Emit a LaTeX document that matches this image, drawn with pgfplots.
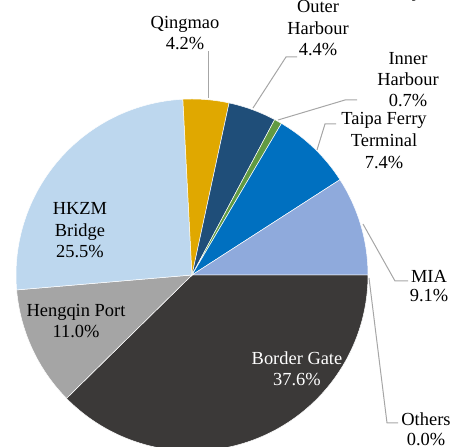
\documentclass[border=0pt]{standalone}
\usepackage{pgfplots}
\usepackage{pgfplotstable}
\pgfplotsset{compat=1.18}
\usepackage{fontspec}
\setmainfont{Liberation Serif}
\definecolor{cBG}{HTML}{3B3938}
\definecolor{cHQ}{HTML}{A5A5A5}
\definecolor{cHK}{HTML}{BDD7EE}
\definecolor{cQM}{HTML}{E0A800}
\definecolor{cOH}{HTML}{1F4E79}
\definecolor{cIH}{HTML}{619A42}
\definecolor{cTF}{HTML}{0070C0}
\definecolor{cMIA}{HTML}{8FAADC}
\definecolor{cOT}{HTML}{7F7F7F}
\definecolor{leadc}{HTML}{A6A6A6}
\pgfplotstableread{
name value color
BorderGate 37.6 cBG
Hengqin 11.0 cHQ
HKZM 25.5 cHK
Qingmao 4.2 cQM
Outer 4.4 cOH
Inner 0.7 cIH
Taipa 7.4 cTF
MIA 9.1 cMIA
Others 0.0 cOT
}\piedata
\newcommand\lblfont{\fontsize{18.5}{21}\selectfont}
\newcommand\lbl[3]{\node[anchor=base, inner sep=0pt, font=\lblfont] at (axis cs:#1,#2) {#3};}
\newcommand\wlbl[3]{\node[anchor=base, inner sep=0pt, font=\lblfont, text=white] at (axis cs:#1,#2) {#3};}
\begin{document}
\begin{tikzpicture}
\useasboundingbox (0,0) rectangle (455bp,447bp);
\clip (0,0) rectangle (455bp,447bp);
\begin{axis}[
  at={(0,0)}, anchor=south west,
  width=455bp, height=447bp, scale only axis,
  xmin=0, xmax=455, ymin=0, ymax=447,
  hide axis, clip=false,
]
\pgfplotstablegetrowsof{\piedata}
\pgfmathtruncatemacro\N{\pgfplotsretval-1}
\def\cum{0}
\pgfplotsforeachungrouped \i in {0,...,\N}{%
  \pgfplotstablegetelem{\i}{value}\of\piedata \let\v\pgfplotsretval
  \pgfplotstablegetelem{\i}{color}\of\piedata \let\c\pgfplotsretval
  \pgfmathsetmacro\aS{-\cum/99.9*360}%
  \pgfmathsetmacro\aE{-(\cum+\v)/99.9*360}%
  \pgfmathsetmacro\cum{\cum+\v}%
  \ifdim\v pt>0pt
  \edef\temp{\noexpand\addplot[fill=\c, draw=white, line width=0.5pt, domain=\aE:\aS, samples=90, smooth] ({192+176*cos(x)},{172+176*sin(x)}) -- (axis cs:192,172) -- cycle;}%
  \temp
  \fi
}
% leader lines
\addplot[leadc, line width=1bp] coordinates {(208,349) (208,396)};
\addplot[leadc, line width=1bp] coordinates {(253,339) (286,390) (297,390)};
\addplot[leadc, line width=1bp] coordinates {(278,327) (345,347) (357,347)};
\addplot[leadc, line width=1bp] coordinates {(317,297) (325,323) (336,323)};
\addplot[leadc, line width=1bp] coordinates {(363,223) (395,166) (408,166)};
\addplot[leadc, line width=1bp] coordinates {(369,169) (387,24) (398,24)};
% labels
\lbl{185}{418}{Qingmao}
\lbl{185}{397}{4.2\%}
\lbl{318}{434}{Outer}
\lbl{318}{412}{Harbour}
\lbl{318}{391}{4.4\%}
\lbl{408}{382}{Inner}
\lbl{408}{361}{Harbour}
\lbl{408}{340}{0.7\%}
\lbl{384}{322}{Taipa Ferry}
\lbl{384}{300}{Terminal}
\lbl{384}{278}{7.4\%}
\lbl{429}{164}{MIA}
\lbl{429}{145}{9.1\%}
\lbl{426}{22}{Others}
\lbl{426}{2}{0.0\%}
\lbl{80}{232}{HKZM}
\lbl{80}{210}{Bridge}
\lbl{80}{189}{25.5\%}
\lbl{76}{130}{Hengqin Port}
\lbl{76}{109}{11.0\%}
\wlbl{297}{82}{Border Gate}
\wlbl{297}{61}{37.6\%}
\node[anchor=base, inner sep=0pt, font=\fontsize{22}{24}\selectfont\bfseries] at (axis cs:417,450) {y};
\end{axis}
\end{tikzpicture}
\end{document}
